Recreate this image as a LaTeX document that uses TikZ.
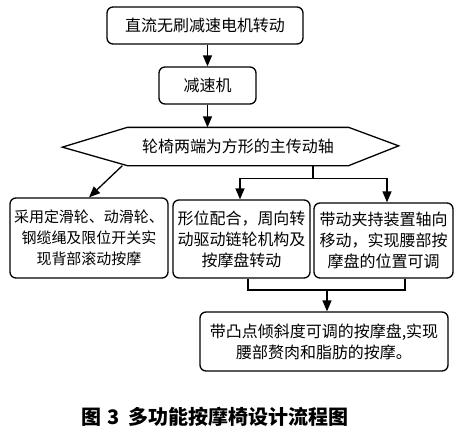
\documentclass[tikz,border=0pt]{standalone}
\usepackage{fontspec}
\setmainfont{Noto Sans CJK SC}
\usetikzlibrary{arrows.meta}

\begin{document}
\begin{tikzpicture}[x=1pt,y=-1pt,>={Triangle[width=9pt,length=11pt]},line width=1.3pt,
  main box/.style={draw,rounded corners=6pt,align=center,inner sep=0pt,font=\fontsize{16}{21}\selectfont}]

  \useasboundingbox (0,0) rectangle (464,434);

  \node[main box,minimum width=196pt,minimum height=37pt] (motor) at (205,25.5) {直流无刷减速电机转动};
  \node[main box,minimum width=97pt,minimum height=37pt] (reducer) at (207.5,85.5) {减速机};
  \node[minimum width=220pt,minimum height=37pt,inner sep=0pt,font=\fontsize{16}{21}\selectfont] (shaft) at (238,146.5) {轮椅两端为方形的主传动轴};
  \draw (shaft.north west) -- (shaft.north east) -- ++(50,18.5) -- (shaft.south east)
    -- (shaft.south west) -- ++(-65,-18.5) -- cycle;

  \node[main box,minimum width=158pt,minimum height=80pt,font=\fontsize{15}{21}\selectfont] (back) at (89,238) {采用定滑轮、动滑轮、\\钢缆绳及限位开关实\\现背部滚动按摩};
  \node[main box,minimum width=137pt,minimum height=78pt] (disc) at (241.5,239) {形位配合，周向转\\动驱动链轮机构及\\按摩盘转动};
  \node[main box,minimum width=139pt,minimum height=75pt] (clamp) at (383.5,240.5) {带动夹持装置轴向\\移动，实现腰部按\\摩盘的位置可调};
  \node[main box,minimum width=248pt,minimum height=59pt] (final) at (324,341.5) {带凸点倾斜度可调的按摩盘,实现\\腰部赘肉和脂肪的按摩。};

  \node[font=\fontsize{20}{20}\selectfont\bfseries] (caption) at (215,417) {图\hspace{6pt}3\hspace{9pt}多功能按摩椅设计流程图};

  \draw[->] (motor.south -| reducer) -- (reducer.north);
  \draw[->] (reducer) -- (reducer |- shaft.north);
  \draw[->] ([xshift=-5pt]shaft.south west) -- (back.north);
  \draw[->] ([xshift=75pt]shaft.south) -- ++(0,13) coordinate (fork) -| ([xshift=-1.5pt]disc.north);
  \draw[->] (fork) -| ([xshift=3.5pt]clamp.north);

  \coordinate (join) at (327,290);
  \draw ([xshift=6.5pt]disc.south) |- (join);
  \draw ([xshift=21.5pt]clamp.south) |- (join);
  \draw[->] (join) -- (join |- final.north);
\end{tikzpicture}
\end{document}
